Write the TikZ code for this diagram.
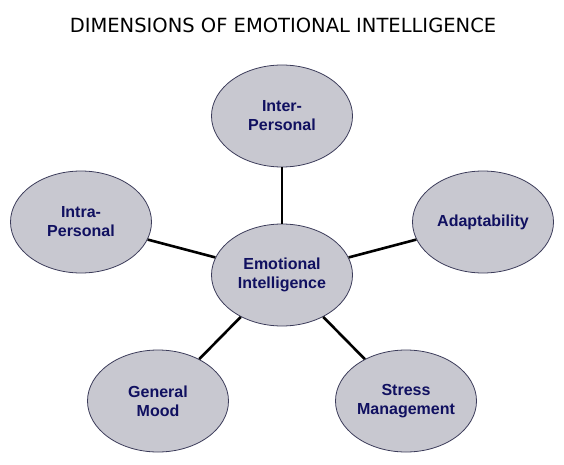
\documentclass[tikz,border=0pt]{standalone}
\usepackage{fontspec}
\usetikzlibrary{shapes.geometric}
\setmainfont{Liberation Sans}
\newfontfamily\titlefont{DejaVu Sans}
\definecolor{dimfill}{RGB}{200,200,208}
\definecolor{dimline}{RGB}{60,60,90}
\definecolor{dimtext}{RGB}{16,16,96}
\begin{document}
\begin{tikzpicture}[x=1pt, y=-1pt,
    dim/.style={ellipse, draw=dimline, line width=0.8pt, fill=dimfill,
        minimum width=141pt, minimum height=102pt, inner sep=0pt,
        align=center, text=dimtext, font=\fontsize{16}{19}\selectfont\bfseries},
    link/.style={line width=2.6pt, black}]
    \useasboundingbox[fill=white] (0,0) rectangle (564,465);

    \node (title) at (283,25) {\titlefont\fontsize{19.5}{21}\selectfont DIMENSIONS OF EMOTIONAL INTELLIGENCE};

    \node[dim] (ei) at (282,275) {Emotional\\Intelligence};
    \node[dim] (inter) at (282,116) {Inter-\\Personal};
    \node[dim] (intra) at (81,222) {Intra-\\Personal};
    \node[dim] (adapt) at (483,222) {Adaptability};
    \node[dim] (mood) at (158,401) {General\\Mood};
    \node[dim] (stress) at (406,401) {Stress\\Management};

    \draw[link] (ei) -- (inter);
    \draw[link] (ei) -- (intra);
    \draw[link] (ei) -- (adapt);
    \draw[link] (ei) -- (mood);
    \draw[link] (ei) -- (stress);
\end{tikzpicture}
\end{document}
